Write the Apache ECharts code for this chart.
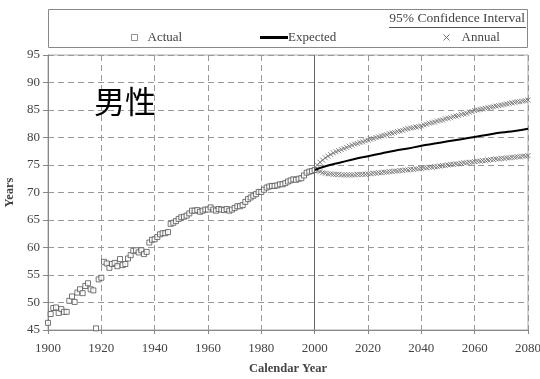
<!DOCTYPE html>
<html>
<head>
<meta charset="utf-8">
<script src="https://cdn.jsdelivr.net/npm/echarts@6/dist/echarts.min.js"></script>
<style>
  html, body { margin: 0; padding: 0; background: #fff; }
  #chart { width: 540px; height: 379px; }
</style>
</head>
<body>
<div id="chart"></div>
<script>
// observed years 1900..2000
const actualStart = 1900;
const actual = [
  46.3, 47.9, 49.0, 49.1, 48.1, 48.8, 48.3, 48.3, 50.3, 51.1,
  50.1, 51.8, 52.4, 51.7, 53.0, 53.5, 52.4, 52.2, 45.3, 54.2,
  54.5, 57.4, 57.1, 56.3, 57.0, 57.2, 56.6, 57.9, 56.8, 57.0,
  58.0, 58.6, 59.4, 59.5, 59.1, 59.5, 58.8, 59.2, 60.9, 61.4,
  61.5, 61.9, 62.4, 62.6, 62.6, 62.8, 64.3, 64.5, 64.8, 65.2,
  65.5, 65.6, 65.8, 66.2, 66.7, 66.7, 66.8, 66.5, 66.7, 66.9,
  66.9, 67.3, 66.9, 66.7, 67.0, 66.9, 66.8, 67.0, 66.7, 66.9,
  67.2, 67.5, 67.5, 67.7, 68.3, 68.8, 69.1, 69.4, 69.7, 70.1,
  70.1, 70.5, 70.9, 71.1, 71.2, 71.2, 71.3, 71.5, 71.5, 71.7,
  72.0, 72.2, 72.4, 72.3, 72.5, 72.6, 73.1, 73.6, 73.8, 73.9,
  74.1
];

// expected projection, every 5 years 2000..2080
const expectedYears = [2000, 2005, 2010, 2015, 2020, 2025, 2030, 2035, 2040, 2045, 2050, 2055, 2060, 2065, 2070, 2075, 2080];
const expected = [74.1, 74.9, 75.5, 76.1, 76.6, 77.1, 77.6, 78.0, 78.5, 78.9, 79.3, 79.7, 80.1, 80.5, 80.9, 81.2, 81.6];

// 95% confidence interval, annual 2001..2080
const ciStart = 2001;
const upper = [
  75.0, 75.5, 75.9, 76.3, 76.6, 76.9, 77.2, 77.4, 77.6, 77.8,
  78.0, 78.2, 78.4, 78.6, 78.8, 78.9, 79.1, 79.2, 79.4, 79.5,
  79.7, 79.8, 80.0, 80.1, 80.3, 80.4, 80.5, 80.7, 80.8, 80.9,
  81.1, 81.2, 81.3, 81.5, 81.6, 81.7, 81.8, 81.9, 82.0, 82.1,
  82.3, 82.4, 82.6, 82.7, 82.8, 83.0, 83.1, 83.2, 83.4, 83.5,
  83.6, 83.8, 83.9, 84.0, 84.2, 84.3, 84.4, 84.6, 84.7, 84.9,
  85.0, 85.1, 85.2, 85.3, 85.4, 85.5, 85.6, 85.7, 85.8, 85.9,
  86.0, 86.1, 86.2, 86.3, 86.4, 86.5, 86.5, 86.6, 86.7, 86.8
];
const lower = [
  74.0, 73.8, 73.6, 73.5, 73.4, 73.4, 73.3, 73.3, 73.3, 73.2,
  73.2, 73.2, 73.2, 73.2, 73.2, 73.3, 73.3, 73.3, 73.3, 73.4,
  73.4, 73.5, 73.5, 73.6, 73.6, 73.7, 73.7, 73.8, 73.8, 73.9,
  73.9, 74.0, 74.0, 74.1, 74.1, 74.2, 74.2, 74.3, 74.3, 74.4,
  74.5, 74.5, 74.6, 74.6, 74.7, 74.7, 74.8, 74.9, 74.9, 75.0,
  75.1, 75.1, 75.2, 75.2, 75.3, 75.4, 75.4, 75.5, 75.5, 75.6,
  75.7, 75.7, 75.8, 75.8, 75.9, 76.0, 76.0, 76.1, 76.1, 76.2,
  76.2, 76.3, 76.3, 76.4, 76.4, 76.5, 76.5, 76.6, 76.6, 76.7
];

const serif = '"Liberation Serif", "DejaVu Serif", serif';
const crossIcon = 'path://M0,0L10,10M10,0L0,10';

const chart = echarts.init(document.getElementById('chart'), null, { renderer: 'canvas' });

const option = {
  animation: false,
  backgroundColor: '#fff',
  grid: {
    left: 48, right: 12, top: 55, bottom: 49,
    containLabel: false, outerBoundsMode: 'none',
    show: true, borderColor: '#aaa', borderWidth: 1
  },
  legend: [
    {
      left: 126, top: 26, itemWidth: 6, itemHeight: 6, itemGap: 0,
      textStyle: { fontFamily: serif, fontSize: 13, color: '#444', padding: [0, 0, 0, 5] },
      data: [{ name: 'Actual', icon: 'rect', itemStyle: { color: '#fff', borderColor: '#777', borderWidth: 1 } }]
    },
    {
      left: 255, top: 26, itemWidth: 28, itemHeight: 3, itemGap: 0,
      textStyle: { fontFamily: serif, fontSize: 13, color: '#444', padding: [0, 0, 0, -5] },
      data: [{ name: 'Expected', icon: 'rect', itemStyle: { color: '#000' } }]
    },
    {
      left: 436, top: 26, itemWidth: 6, itemHeight: 6, itemGap: 0,
      textStyle: { fontFamily: serif, fontSize: 13, color: '#444', padding: [0, 0, 0, 7] },
      data: [{ name: 'Annual', icon: crossIcon, itemStyle: { color: 'none', borderColor: '#555', borderWidth: 1 } }]
    }
  ],
  graphic: [
    { type: 'rect', shape: { x: 48.5, y: 9.5, width: 479, height: 38 }, style: { fill: 'none', stroke: '#888', lineWidth: 1 }, z: 0 },
    { type: 'text', right: 15, top: 11, style: { text: '95% Confidence Interval', font: '13.5px ' + serif, fill: '#444' } },
    { type: 'line', shape: { x1: 389, y1: 27.5, x2: 526, y2: 27.5 }, style: { stroke: '#555', lineWidth: 1 } },
    { type: 'text', left: 94, top: 86, style: { text: '男性', font: '31px "Noto Sans CJK SC", sans-serif', fill: '#000' }, z: 10 }
  ],
  xAxis: {
    type: 'value', min: 1900, max: 2080, interval: 20,
    name: 'Calendar Year', nameLocation: 'middle', nameGap: 32,
    nameTextStyle: { fontFamily: serif, fontSize: 12.5, color: '#444', fontWeight: 'bold' },
    axisLine: { lineStyle: { color: '#888' } },
    axisTick: { show: true, length: 4, lineStyle: { color: '#888' } },
    axisLabel: { fontFamily: serif, fontSize: 13, color: '#444', margin: 12, formatter: v => String(v) },
    splitLine: { show: true, lineStyle: { color: '#999', type: [6, 4], width: 1 } }
  },
  yAxis: {
    type: 'value', min: 45, max: 95, interval: 5,
    name: 'Years', nameLocation: 'middle', nameGap: 27, nameRotate: 90,
    nameTextStyle: { fontFamily: serif, fontSize: 12.5, color: '#444', fontWeight: 'bold' },
    axisLine: { show: true, lineStyle: { color: '#888' } },
    axisTick: { show: true, length: 5, lineStyle: { color: '#888' } },
    axisLabel: { fontFamily: serif, fontSize: 13, color: '#444', margin: 8 },
    splitLine: { show: true, lineStyle: { color: '#999', type: [6, 4], width: 1 } }
  },
  series: [
    {
      name: 'Actual', type: 'scatter', symbol: 'rect', symbolSize: 5,
      itemStyle: { color: '#fff', borderColor: '#555', borderWidth: 1 },
      data: actual.map((v, i) => [actualStart + i, v]),
      markLine: {
        silent: true, symbol: 'none', label: { show: false },
        lineStyle: { color: '#666', type: 'solid', width: 1 },
        data: [{ xAxis: 2000 }]
      },
      z: 3
    },
    {
      name: 'Annual', type: 'scatter', symbol: crossIcon, symbolSize: 5,
      itemStyle: { color: 'none', borderColor: '#666', borderWidth: 1 },
      data: upper.map((v, i) => [ciStart + i, v]), z: 2
    },
    {
      name: 'Annual', type: 'scatter', symbol: crossIcon, symbolSize: 5,
      itemStyle: { color: 'none', borderColor: '#666', borderWidth: 1 },
      data: lower.map((v, i) => [ciStart + i, v]), z: 2
    },
    {
      name: 'Expected', type: 'line', smooth: true, showSymbol: false,
      lineStyle: { color: '#000', width: 2 },
      data: expectedYears.map((y, i) => [y, expected[i]]), z: 4
    }
  ]
};

chart.setOption(option);
</script>
</body>
</html>
